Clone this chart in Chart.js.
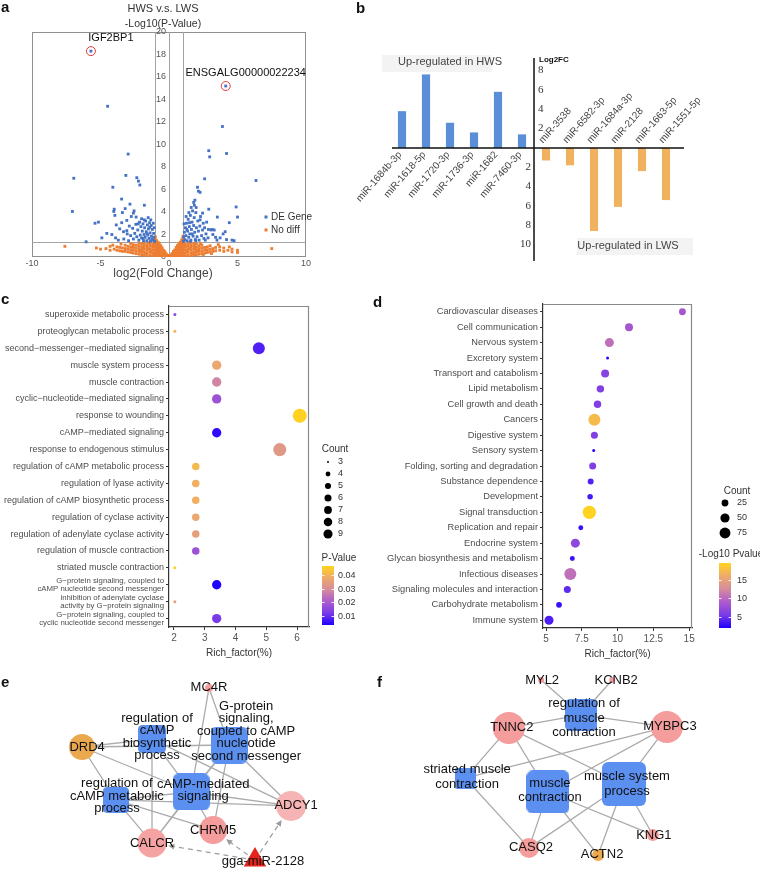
<!DOCTYPE html>
<html>
<head>
<meta charset="utf-8">
<title>HWS vs LWS</title>
<script src="https://cdn.jsdelivr.net/npm/chart.js@4.4.1/dist/chart.umd.min.js"></script>
<style>
  body { margin: 0; background: #fff; }
  #page { position: relative; width: 760px; height: 869px; overflow: hidden; font-family: "Liberation Sans", Arial, sans-serif; }
  #page canvas { position: absolute; }
  .tag { position: absolute; font-weight: bold; font-size: 15px; line-height: 16px; color: #111; }
</style>
</head>
<body>
<div id="page">
  <canvas id="volcano" width="330" height="290" style="left:0px;top:0px"></canvas>
  <canvas id="mirBars" width="430" height="290" style="left:330px;top:0px"></canvas>
  <canvas id="goDots" width="375" height="380" style="left:0px;top:290px"></canvas>
  <canvas id="keggDots" width="385" height="380" style="left:375px;top:290px"></canvas>
  <canvas id="netE" width="380" height="199" style="left:0px;top:670px"></canvas>
  <canvas id="netF" width="380" height="199" style="left:380px;top:670px"></canvas>
  <div class="tag" style="left:1px;top:-1px">a</div>
  <div class="tag" style="left:356px;top:0px">b</div>
  <div class="tag" style="left:1px;top:291px">c</div>
  <div class="tag" style="left:373px;top:294px">d</div>
  <div class="tag" style="left:1px;top:674px">e</div>
  <div class="tag" style="left:377px;top:674px">f</div>
</div>
<script>
// ---------- a: volcano ----------
const volcanoXTicks = [-10, -5, 0, 5, 10];
const volcanoYTicks = [0, 2, 4, 6, 8, 10, 12, 14, 16, 18, 20];
const foldCut = 1;
const pCut = 1.3;
const namedGenes = ['IGF2BP1', 'ENSGALG00000022234'];
const namedGenePts = [[-5.7, 18.3], [4.14, 15.2]];

const deGenes = [
  [-5.7, 18.3], [4.14, 15.2], [-4.48, 13.4], [3.9, 11.6], [-2.98, 9.15], [2.9, 9.45], [2.97, 8.9], [4.2, 9.2],
  [-6.95, 7.0], [-3.15, 7.25], [-2.35, 7.05], [-2.23, 6.75], [-2.13, 6.4], [-4.1, 6.2], [2.6, 6.95], [6.35, 6.8],
  [2.08, 6.2], [2.15, 5.85], [2.27, 5.75], [-7.05, 4.05], [-6.05, 1.35], [-5.4, 3.0], [-5.15, 3.1], [-4.9, 1.7],
  [-3.46, 5.15], [-2.85, 4.7], [-3.2, 4.3], [-4.0, 4.25], [-4.03, 4.05], [-3.4, 3.95], [-3.95, 3.7], [-3.08, 3.25],
  [-1.8, 4.6], [1.8, 4.85], [1.89, 5.05], [1.98, 4.4], [2.9, 4.25], [4.9, 4.45], [5.0, 3.55], [3.53, 3.55],
  [4.4, 3.05], [4.1, 2.25], [3.07, 2.4], [2.88, 2.45], [3.73, 1.7], [4.75, 1.45], [2.27, 3.3],
  [-1.05, 1.4], [-1.1, 1.75], [-1.12, 2.1], [-1.18, 1.5], [-1.22, 2.45], [-1.28, 1.85], [-1.3, 2.8], [-1.35, 1.4],
  [-1.38, 2.15], [-1.42, 3.05], [-1.46, 1.65], [-1.5, 2.5], [-1.54, 1.95], [-1.58, 2.85], [-1.62, 1.45], [-1.66, 2.25],
  [-1.7, 3.2], [-1.74, 1.75], [-1.78, 2.6], [-1.82, 2.0], [-1.86, 1.45], [-1.9, 2.95], [-1.95, 2.3], [-2.0, 1.7],
  [-2.05, 2.7], [-2.1, 1.95], [-2.15, 3.1], [-2.2, 1.5], [-2.28, 2.4], [-2.35, 1.8], [-2.42, 2.9], [-2.5, 2.1],
  [-2.6, 1.6], [-1.15, 3.0], [-1.25, 1.6], [-1.4, 2.65], [-1.6, 2.05], [-1.8, 3.3], [-2.0, 3.4], [-2.25, 2.95],
  [-1.33, 3.3], [-1.9, 1.65], [-2.65, 2.55], [-1.08, 2.6], [-1.52, 3.5],
  [-2.75, 3.6], [-2.9, 2.75], [-3.05, 2.05], [-3.3, 1.6], [-3.6, 2.5], [-3.85, 2.85], [-4.17, 2.0], [-4.54, 2.1],
  [-3.32, 2.25], [-2.8, 1.9], [-3.08, 2.34], [-2.6, 3.9], [-2.4, 3.55], [-3.7, 1.5], [-2.95, 1.45], [-3.45, 3.05],
  [-2.55, 4.1], [-3.9, 1.7],
  [1.05, 1.4], [1.08, 1.8], [1.12, 2.2], [1.15, 1.55], [1.2, 2.6], [1.24, 1.9], [1.28, 3.0], [1.32, 1.45],
  [1.36, 2.3], [1.4, 3.35], [1.44, 1.75], [1.48, 2.7], [1.52, 2.05], [1.56, 3.7], [1.6, 1.5], [1.64, 2.45],
  [1.68, 3.1], [1.72, 4.1], [1.76, 1.85], [1.8, 2.8], [1.84, 3.5], [1.88, 2.2], [1.92, 1.55], [1.96, 3.95],
  [2.0, 2.6], [2.05, 1.8], [2.1, 3.2], [2.15, 2.3], [2.2, 1.5], [2.25, 2.75], [2.3, 3.6], [2.38, 1.9],
  [2.45, 2.4], [2.55, 1.65], [1.3, 2.45], [1.5, 3.05], [1.62, 4.4], [1.7, 2.05], [1.85, 4.6], [1.45, 3.95],
  [1.1, 2.95], [1.25, 3.6], [1.95, 1.45], [2.5, 3.0], [1.58, 1.4],
  [2.7, 2.05], [2.85, 1.7], [3.2, 2.0], [3.5, 1.5], [2.75, 3.1], [3.15, 2.45], [2.65, 1.5], [3.4, 1.75],
  [4.2, 1.55], [3.95, 2.05], [2.45, 3.9], [2.6, 2.6], [3.3, 2.4], [4.6, 1.5]
];

const noDiff = [
  [-0.1, 0.05], [-0.1, 0.15], [-0.2, 0.08], [-0.2, 0.28], [-0.3, 0.1], [-0.3, 0.3], [-0.3, 0.48], [-0.4, 0.12],
  [-0.4, 0.35], [-0.4, 0.6], [-0.5, 0.1], [-0.5, 0.35], [-0.5, 0.6], [-0.5, 0.82], [-0.6, 0.12], [-0.6, 0.37],
  [-0.6, 0.62], [-0.6, 0.87], [-0.6, 1.0], [-0.7, 0.15], [-0.7, 0.4], [-0.7, 0.65], [-0.7, 0.9], [-0.7, 1.15],
  [-0.8, 0.1], [-0.8, 0.35], [-0.8, 0.6], [-0.8, 0.85], [-0.8, 1.1], [-0.8, 1.3], [-0.9, 0.2], [-0.9, 0.45],
  [-0.9, 0.7], [-0.9, 0.95], [-0.9, 1.2], [-0.9, 1.45], [-1.0, 0.1], [-1.0, 0.35], [-1.0, 0.6], [-1.0, 0.85],
  [-1.0, 1.1], [-1.0, 1.35], [-1.0, 1.6], [-1.0, 1.8],
  [0.1, 0.06], [0.12, 0.18], [0.2, 0.1], [0.22, 0.3], [0.3, 0.12], [0.3, 0.32], [0.32, 0.5], [0.4, 0.1],
  [0.4, 0.34], [0.42, 0.62], [0.5, 0.12], [0.5, 0.36], [0.5, 0.6], [0.52, 0.84], [0.6, 0.1], [0.6, 0.35],
  [0.6, 0.6], [0.6, 0.85], [0.62, 1.02], [0.7, 0.14], [0.7, 0.4], [0.7, 0.66], [0.7, 0.92], [0.72, 1.17],
  [0.8, 0.1], [0.8, 0.36], [0.8, 0.62], [0.8, 0.88], [0.8, 1.12], [0.82, 1.32], [0.9, 0.2], [0.9, 0.46],
  [0.9, 0.72], [0.9, 0.98], [0.9, 1.24], [0.92, 1.5], [1.0, 0.12], [1.0, 0.38], [1.0, 0.64], [1.0, 0.9],
  [1.0, 1.16], [1.0, 1.42], [1.0, 1.65], [1.02, 1.85],
  [-1.2, 0.1], [-1.2, 0.35], [-1.2, 0.6], [-1.2, 0.85], [-1.2, 1.1], [-1.4, 0.2], [-1.4, 0.45], [-1.4, 0.7],
  [-1.4, 0.95], [-1.4, 1.2], [-1.6, 0.1], [-1.6, 0.35], [-1.6, 0.6], [-1.6, 0.85], [-1.6, 1.1], [-1.8, 0.2],
  [-1.8, 0.45], [-1.8, 0.7], [-1.8, 0.95], [-1.8, 1.2], [-2.0, 0.15], [-2.0, 0.4], [-2.0, 0.65], [-2.0, 0.9],
  [-2.0, 1.15], [-2.2, 0.25], [-2.2, 0.5], [-2.2, 0.75], [-2.2, 1.0], [-2.2, 1.25], [-2.4, 0.3], [-2.4, 0.55],
  [-2.4, 0.8], [-2.4, 1.05], [-2.6, 0.35], [-2.6, 0.6], [-2.6, 0.85], [-2.6, 1.1], [-2.8, 0.4], [-2.8, 0.65],
  [-2.8, 0.9], [-2.8, 1.2], [-3.0, 0.45], [-3.0, 0.7], [-3.0, 0.95], [-3.2, 0.5], [-3.2, 0.75], [-3.2, 1.05],
  [-3.4, 0.5], [-3.4, 0.8], [-3.6, 0.55], [-3.6, 0.85], [-3.8, 0.6], [-3.8, 0.9], [-4.0, 0.7], [-4.3, 0.6],
  [-4.3, 0.95], [-4.6, 0.75], [-1.1, 0.22], [-1.3, 0.48], [-1.5, 0.72], [-1.7, 0.28], [-1.9, 0.82], [-2.1, 0.55],
  [-1.1, 1.25], [-1.5, 1.28],
  [1.2, 0.1], [1.2, 0.35], [1.2, 0.6], [1.2, 0.85], [1.2, 1.1], [1.4, 0.2], [1.4, 0.45], [1.4, 0.7],
  [1.4, 0.95], [1.4, 1.2], [1.6, 0.1], [1.6, 0.35], [1.6, 0.6], [1.6, 0.85], [1.6, 1.1], [1.8, 0.2],
  [1.8, 0.45], [1.8, 0.7], [1.8, 0.95], [1.8, 1.2], [2.0, 0.15], [2.0, 0.4], [2.0, 0.65], [2.0, 0.9],
  [2.0, 1.15], [2.2, 0.25], [2.2, 0.5], [2.2, 0.75], [2.2, 1.0], [2.4, 0.3], [2.4, 0.55], [2.4, 0.8],
  [2.4, 1.05], [2.6, 0.35], [2.6, 0.6], [2.6, 0.85], [2.8, 0.4], [2.8, 0.65], [2.8, 0.9], [3.0, 0.45],
  [3.0, 0.7], [3.0, 1.0], [3.2, 0.5], [3.2, 0.75], [3.4, 0.55], [3.4, 0.85], [3.7, 0.6], [3.7, 0.9],
  [4.0, 0.5], [4.0, 0.8], [4.3, 0.6], [4.6, 0.7], [4.6, 0.45], [5.0, 0.6], [5.0, 0.4], [1.1, 0.25],
  [1.3, 0.5], [1.5, 0.75], [1.7, 0.3], [1.9, 0.8], [2.1, 0.55], [1.1, 1.25], [1.5, 1.28], [2.3, 1.2],
  [2.5, 0.2], [3.1, 0.3],
  [-7.6, 0.95], [-5.0, 0.7], [-5.3, 0.8], [-4.1, 1.05], [-3.5, 1.15], [7.5, 0.75], [3.6, 1.1], [4.4, 0.9]
];

// ---------- b: miRNA log2FC ----------
const hwsMirs = ['miR-1684b-3p', 'miR-1618-5p', 'miR-1720-3p', 'miR-1736-3p', 'miR-1682', 'miR-7460-3p'];
const hwsLog2FC = [3.8, 7.6, 2.6, 1.6, 5.8, 1.4];
const lwsMirs = ['miR-3538', 'miR-6582-3p', 'miR-1684a-3p', 'miR-2128', 'miR-1663-5p', 'miR-1551-5p'];
const lwsLog2FC = [-1.3, -1.8, -8.6, -6.1, -2.4, -5.4];
const mirTicksUp = [2, 4, 6, 8];
const mirTicksDown = [2, 4, 6, 8, 10];

// ---------- c: GO terms ----------
const goTerms = [
  'superoxide metabolic process',
  'proteoglycan metabolic process',
  'second\u2212messenger\u2212mediated signaling',
  'muscle system process',
  'muscle contraction',
  'cyclic\u2212nucleotide\u2212mediated signaling',
  'response to wounding',
  'cAMP\u2212mediated signaling',
  'response to endogenous stimulus',
  'regulation of cAMP metabolic process',
  'regulation of lyase activity',
  'regulation of cAMP biosynthetic process',
  'regulation of cyclase activity',
  'regulation of adenylate cyclase activity',
  'regulation of muscle contraction',
  'striated muscle contraction',
  ['G\u2212protein signaling, coupled to', 'cAMP nucleotide second messenger'],
  ['inhibition of adenylate cyclase', 'activity by G\u2212protein signaling'],
  ['G\u2212protein signaling, coupled to', 'cyclic nucleotide second messenger']
];
const goRichFactor = [2.03, 2.03, 4.76, 3.39, 3.39, 3.39, 6.09, 3.39, 5.44, 2.71, 2.71, 2.71, 2.71, 2.71, 2.71, 2.03, 3.39, 2.03, 3.39];
const goCount = [3, 3, 7, 5, 5, 5, 9, 5, 8, 4, 4, 4, 4, 4, 4, 3, 5, 3, 5];
const goPValue = [0.015, 0.040, 0.008, 0.037, 0.028, 0.018, 0.046, 0.005, 0.033, 0.041, 0.039, 0.039, 0.037, 0.035, 0.018, 0.046, 0.003, 0.035, 0.012];
const goXTicks = [2, 3, 4, 5, 6];
const goCountKeys = [3, 4, 5, 6, 7, 8, 9];
const goPTicks = [0.01, 0.02, 0.03, 0.04];
const goPRange = [0.0034, 0.0466];

// ---------- d: KEGG classes ----------
const keggTerms = [
  'Cardiovascular diseases', 'Cell communication', 'Nervous system', 'Excretory system',
  'Transport and catabolism', 'Lipid metabolism', 'Cell growth and death', 'Cancers',
  'Digestive system', 'Sensory system', 'Folding, sorting and degradation', 'Substance dependence',
  'Development', 'Signal transduction', 'Replication and repair', 'Endocrine system',
  'Glycan biosynthesis and metabolism', 'Infectious diseases', 'Signaling molecules and interaction',
  'Carbohydrate metabolism', 'Immune system'
];
const keggRichFactor = [14.53, 10.8, 9.43, 9.3, 9.13, 8.8, 8.6, 8.38, 8.38, 8.33, 8.26, 8.12, 8.08, 8.03, 7.43, 7.05, 6.84, 6.7, 6.49, 5.91, 5.21];
const keggCount = [20, 28, 37, 8, 28, 24, 24, 73, 21, 8, 21, 15, 13, 92, 11, 37, 11, 73, 21, 14, 37];
const keggLogP = [8.5, 8.5, 10.5, 2.5, 6.5, 6, 6, 17.5, 6, 2.3, 6, 4, 3.5, 19.5, 3, 7, 3, 10.5, 4.5, 3, 3.8];
const keggXTicks = [5, 7.5, 10, 12.5, 15];
const keggCountKeys = [25, 50, 75];
const keggPTicks = [5, 10, 15];
const keggPRange = [2.0, 19.6];

// ---------- e / f: networks (layout units 0-100) ----------
const eNames = [['MC4R'], ['G-protein', 'signaling,', 'coupled to cAMP', 'nucleotide', 'second messenger'],
  ['regulation of', 'cAMP', 'biosynthetic', 'process'], ['DRD4'], ['cAMP-mediated', 'signaling'],
  ['regulation of', 'cAMP metabolic', 'process'], ['ADCY1'], ['CHRM5'], ['CALCR'], ['gga-miR-2128']];
const eKind = ['gene', 'term', 'term', 'gene', 'term', 'term', 'gene', 'gene', 'gene', 'mirna'];
const eLayoutX = [55.0, 60.3, 40.0, 21.6, 50.3, 30.5, 76.6, 56.1, 40.0, 67.1];
const eLayoutY = [9.0, 37.7, 34.7, 38.7, 61.3, 65.3, 68.3, 80.4, 86.9, 95.5];
const eEdges = [[0, 1], [0, 4], [3, 2], [3, 1], [3, 5], [3, 4], [2, 4], [2, 8], [2, 6], [1, 4], [1, 7], [1, 6],
  [1, 8], [4, 6], [4, 8], [4, 7], [5, 4], [5, 6], [5, 7], [5, 8]];
const eTargets = [[9, 8], [9, 7], [9, 6]];

const fNames = [['MYL2'], ['KCNB2'], ['regulation of', 'muscle', 'contraction'], ['TNNC2'], ['MYBPC3'],
  ['striated muscle', 'contraction'], ['muscle', 'contraction'], ['muscle system', 'process'], ['KNG1'], ['CASQ2'], ['ACTN2']];
const fKind = ['gene', 'gene', 'term', 'gene', 'gene', 'term', 'term', 'term', 'gene', 'gene', 'gene'];
const fLayoutX = [42.4, 61.1, 52.9, 33.9, 75.5, 22.4, 44.2, 64.2, 71.8, 39.2, 57.4];
const fLayoutY = [5.0, 5.0, 22.6, 29.1, 28.6, 54.3, 61.3, 57.3, 82.9, 89.4, 93.0];
const fEdges = [[0, 2], [1, 2], [3, 2], [4, 2], [3, 5], [3, 6], [3, 7], [4, 5], [4, 6], [4, 7], [5, 9], [6, 9],
  [6, 10], [6, 8], [7, 9], [7, 10], [7, 8]];

// ---------- helpers ----------
const FONT = '"Liberation Sans", Arial, sans-serif';
Chart.defaults.font.family = FONT;
Chart.defaults.animation = false;
Chart.defaults.responsive = false;
Chart.defaults.events = [];
Chart.defaults.layout.autoPadding = false;
Chart.defaults.plugins.legend.display = false;
Chart.defaults.plugins.tooltip.enabled = false;

const ramp = ['#1e00ff', '#7a3ae8', '#ad5ccc', '#d58c9c', '#eeaa6a', '#ffd41e'];
function hexRgb(h) { const n = parseInt(h.slice(1), 16); return [n >> 16, (n >> 8) & 255, n & 255]; }
function rampColor(t) {
  t = Math.max(0, Math.min(1, t));
  const k = t * (ramp.length - 1);
  const i = Math.min(Math.floor(k), ramp.length - 2);
  const a = hexRgb(ramp[i]), b = hexRgb(ramp[i + 1]), f = k - i;
  return 'rgb(' + a.map((v, j) => Math.round(v + (b[j] - v) * f)).join(',') + ')';
}
function rampBar(ctx, x, y, w, h) {
  const g = ctx.createLinearGradient(0, y + h, 0, y);
  ramp.forEach((c, i) => g.addColorStop(i / (ramp.length - 1), c));
  ctx.fillStyle = g;
  ctx.fillRect(x, y, w, h);
}
const goRadius = c => 1.5 + 5.5 * Math.sqrt((c - 3) / 6);
const keggRadius = c => 1.5 + 5.2 * Math.sqrt(Math.max(c - 8, 0) / 87);

// ---------- a ----------
const volcanoDecor = {
  id: 'volcanoDecor',
  beforeDatasetsDraw(chart) {
    const { ctx, chartArea: a, scales: { x, y } } = chart;
    const x0 = x.getPixelForValue(0);
    ctx.save();
    ctx.strokeStyle = '#8f8f8f';
    ctx.lineWidth = 1;
    ctx.strokeRect(a.left + 0.5, a.top + 0.5, a.width - 1, a.height - 1);
    ctx.strokeStyle = '#a3a3a3';
    ctx.beginPath();
    [-foldCut, foldCut, 0].forEach(v => {
      const px = Math.round(x.getPixelForValue(v)) + 0.5;
      ctx.moveTo(px, a.top); ctx.lineTo(px, a.bottom);
    });
    const py = Math.round(y.getPixelForValue(pCut)) + 0.5;
    ctx.moveTo(a.left, py); ctx.lineTo(a.right, py);
    ctx.stroke();
    ctx.fillStyle = '#555';
    ctx.font = '9px ' + FONT;
    ctx.textAlign = 'right';
    ctx.textBaseline = 'middle';
    volcanoYTicks.forEach(v => ctx.fillText(String(v), x0 - 3, y.getPixelForValue(v)));
    ctx.textAlign = 'center';
    volcanoXTicks.forEach(v => ctx.fillText(String(v), x.getPixelForValue(v), a.bottom + 7));
    ctx.restore();
  },
  afterDatasetsDraw(chart) {
    const { ctx, chartArea: a, scales: { x, y } } = chart;
    const x0 = x.getPixelForValue(0);
    ctx.save();
    ctx.textBaseline = 'middle';
    namedGenes.forEach((g, i) => {
      const px = x.getPixelForValue(namedGenePts[i][0]);
      const py = y.getPixelForValue(namedGenePts[i][1]);
      ctx.strokeStyle = '#e23b3b';
      ctx.lineWidth = 1;
      ctx.beginPath(); ctx.arc(px, py, 4.5, 0, Math.PI * 2); ctx.stroke();
      ctx.fillStyle = '#111';
      ctx.font = '11px ' + FONT;
      ctx.textAlign = 'center';
      ctx.fillText(g, px + 20, py - 13);
    });
    // legend
    const lx = a.right - 40, ly = a.top + 185;
    [['DE Gene', '#4472c4'], ['No diff', '#ed7d31']].forEach(([t, c], i) => {
      ctx.fillStyle = c;
      ctx.fillRect(lx - 1.5, ly + i * 13 - 1.5, 3, 3);
      ctx.fillStyle = '#333';
      ctx.font = '10px ' + FONT;
      ctx.textAlign = 'left';
      ctx.fillText(t, lx + 5, ly + i * 13);
    });
    ctx.fillStyle = '#333';
    ctx.textAlign = 'center';
    ctx.font = '11px ' + FONT;
    ctx.fillText('HWS v.s. LWS', x0 - 6, a.top - 23);
    ctx.font = '10.5px ' + FONT;
    ctx.fillText('-Log10(P-Value)', x0 - 6, a.top - 8);
    ctx.fillStyle = '#444';
    ctx.font = '12px ' + FONT;
    ctx.fillText('log2(Fold Change)', x0 - 6, a.bottom + 17);
    ctx.restore();
  }
};

new Chart(document.getElementById('volcano'), {
  type: 'scatter',
  data: {
    datasets: [
      { label: 'DE Gene', data: deGenes.map(p => ({ x: p[0], y: p[1] })), pointStyle: 'rect', pointRadius: 2, backgroundColor: '#4472c4', borderWidth: 0 },
      { label: 'No diff', data: noDiff.map(p => ({ x: p[0], y: p[1] })), pointStyle: 'rect', pointRadius: 2, backgroundColor: '#ed7d31', borderWidth: 0 }
    ]
  },
  options: {
    layout: { padding: { left: 32, right: 24, top: 32, bottom: 33 } },
    scales: {
      x: { type: 'linear', min: -10, max: 10, display: false },
      y: { type: 'linear', min: 0, max: 20, display: false }
    }
  },
  plugins: [volcanoDecor]
});

// ---------- b ----------
const mirNames = hwsMirs.concat(lwsMirs);
const mirLog2FC = hwsLog2FC.concat(lwsLog2FC);

const mirDecor = {
  id: 'mirDecor',
  beforeDatasetsDraw(chart) {
    const ctx = chart.ctx;
    ctx.save();
    ctx.fillStyle = '#f3f3f3';
    ctx.fillRect(52, 55, 110, 17);
    ctx.fillRect(247, 238, 116, 17);
    ctx.restore();
  },
  afterDatasetsDraw(chart) {
    const { ctx, chartArea: a, scales: { x, y } } = chart;
    const y0 = y.getPixelForValue(0);
    const split = hwsMirs.length;
    const ax = Math.round((x.getPixelForValue(split - 1) + x.getPixelForValue(split)) / 2);
    ctx.save();
    ctx.strokeStyle = '#111';
    ctx.lineWidth = 1.5;
    ctx.beginPath();
    ctx.moveTo(a.left + 2, y0); ctx.lineTo(a.right + 6, y0);
    ctx.moveTo(ax, a.top); ctx.lineTo(ax, a.bottom);
    ctx.stroke();
    ctx.fillStyle = '#333';
    ctx.textBaseline = 'middle';
    ctx.font = '11px "Liberation Serif", "Times New Roman", serif';
    ctx.textAlign = 'left';
    mirTicksUp.forEach(v => ctx.fillText(String(v), ax + 4, y.getPixelForValue(v)));
    ctx.textAlign = 'right';
    mirTicksDown.forEach(v => ctx.fillText(String(v), ax - 3, y.getPixelForValue(-v)));
    ctx.fillStyle = '#111';
    ctx.font = 'bold 8px ' + FONT;
    ctx.textAlign = 'left';
    ctx.fillText('Log2FC', ax + 5, a.top + 2);
    ctx.fillStyle = '#444';
    ctx.font = '10px ' + FONT;
    mirNames.forEach((n, i) => {
      const px = x.getPixelForValue(i);
      ctx.save();
      if (i < split) {
        ctx.translate(px - 2, y0 + 5);
        ctx.textAlign = 'right';
      } else {
        ctx.translate(px - 5, y0 - 6);
        ctx.textAlign = 'left';
      }
      ctx.rotate(-0.85);
      ctx.fillText(n, 0, 0);
      ctx.restore();
    });
    ctx.font = '11px ' + FONT;
    ctx.textAlign = 'center';
    ctx.fillText('Up-regulated in HWS', 120, 62);
    ctx.fillText('Up-regulated in LWS', 298, 246);
    ctx.restore();
  }
};

new Chart(document.getElementById('mirBars'), {
  type: 'bar',
  data: {
    labels: mirNames,
    datasets: [{
      data: mirLog2FC,
      backgroundColor: c => (c.raw > 0 ? '#5a8fd8' : '#f0b25f'),
      barPercentage: 0.34,
      categoryPercentage: 1
    }]
  },
  options: {
    layout: { padding: { left: 60, right: 82, top: 58, bottom: 29 } },
    scales: {
      x: { display: false },
      y: { display: false, min: -11.7, max: 9.3 }
    }
  },
  plugins: [mirDecor]
});

// ---------- c / d shared ----------
function dotXScale(ticks, min, max) {
  return {
    type: 'linear', min, max,
    afterBuildTicks: s => { s.ticks = ticks.map(v => ({ value: v })); },
    afterFit: s => { s.height = 36; },
    grid: { drawOnChartArea: false, tickLength: 3, color: '#333' },
    border: { color: '#333', width: 1.2 },
    ticks: { font: { size: 10 }, color: '#555', padding: 2, autoSkip: false, maxRotation: 0, callback: v => String(v) },
    title: { display: true, text: 'Rich_factor(%)', font: { size: 10 }, color: '#333', padding: { top: 0, bottom: 4 } }
  };
}
function dotYScale(labels, width, size) {
  return {
    type: 'category', labels, offset: true,
    afterFit: s => { s.width = width; },
    grid: { drawOnChartArea: false, tickLength: 3, color: '#333' },
    border: { color: '#333', width: 1.2 },
    ticks: {
      autoSkip: false, color: '#4d4d4d', padding: 2,
      font: c => (c.tick && Array.isArray(c.tick.label) ? { size: 7.8, lineHeight: 1.05 } : { size })
    }
  };
}
const dotFrame = {
  id: 'dotFrame',
  beforeDatasetsDraw(chart) {
    const { ctx, chartArea: a } = chart;
    ctx.save();
    ctx.strokeStyle = '#8a8a8a';
    ctx.lineWidth = 1.2;
    ctx.beginPath();
    ctx.moveTo(a.left, a.top + 0.5);
    ctx.lineTo(a.right - 0.5, a.top + 0.5);
    ctx.lineTo(a.right - 0.5, a.bottom);
    ctx.stroke();
    ctx.restore();
  }
};
function dotLegend(cfg) {
  return {
    id: 'dotLegend',
    afterDraw(chart) {
      const ctx = chart.ctx;
      ctx.save();
      ctx.textBaseline = 'middle';
      ctx.fillStyle = '#333';
      ctx.font = '10px ' + FONT;
      ctx.textAlign = 'center';
      ctx.fillText('Count', cfg.countX, cfg.countY);
      cfg.counts.forEach((c, i) => {
        const cy = cfg.countY + cfg.firstGap + i * cfg.step;
        ctx.fillStyle = '#000';
        ctx.beginPath(); ctx.arc(cfg.dotX, cy, cfg.radius(c) * cfg.scale, 0, Math.PI * 2); ctx.fill();
        ctx.fillStyle = '#333';
        ctx.font = '9px ' + FONT;
        ctx.textAlign = 'left';
        ctx.fillText(String(c), cfg.dotX + cfg.labelGap, cy);
      });
      ctx.fillStyle = '#333';
      ctx.font = '10px ' + FONT;
      ctx.textAlign = 'center';
      ctx.fillText(cfg.colorTitle, cfg.colorTitleX, cfg.colorTitleY);
      rampBar(ctx, cfg.barX, cfg.barY, 12, cfg.barH);
      cfg.colorTicks.forEach(v => {
        const ty = Math.round(cfg.barY + cfg.barH - (v - cfg.range[0]) / (cfg.range[1] - cfg.range[0]) * cfg.barH) + 0.5;
        ctx.strokeStyle = 'rgba(255,255,255,0.85)';
        ctx.lineWidth = 1;
        ctx.beginPath();
        ctx.moveTo(cfg.barX, ty); ctx.lineTo(cfg.barX + 2.5, ty);
        ctx.moveTo(cfg.barX + 9.5, ty); ctx.lineTo(cfg.barX + 12, ty);
        ctx.stroke();
        ctx.fillStyle = '#333';
        ctx.font = '9px ' + FONT;
        ctx.textAlign = 'left';
        ctx.fillText(cfg.tickText(v), cfg.barX + cfg.tickGap, ty);
      });
      ctx.restore();
    }
  };
}

// ---------- c ----------
new Chart(document.getElementById('goDots'), {
  type: 'scatter',
  data: {
    datasets: [{
      data: goTerms.map((t, i) => ({ x: goRichFactor[i], y: i })),
      pointRadius: c => goRadius(goCount[c.dataIndex]),
      backgroundColor: c => rampColor((goPValue[c.dataIndex] - goPRange[0]) / (goPRange[1] - goPRange[0])),
      borderWidth: 0
    }]
  },
  options: {
    layout: { padding: { left: 0, right: 66, top: 16, bottom: 7 } },
    scales: { x: dotXScale(goXTicks, 1.84, 6.39), y: dotYScale(goTerms, 169, 9) }
  },
  plugins: [dotFrame, dotLegend({
    countX: 335, countY: 159, dotX: 328, firstGap: 13, step: 12, counts: goCountKeys, radius: goRadius, scale: 0.65, labelGap: 10,
    colorTitle: 'P-Value', colorTitleX: 339, colorTitleY: 268, barX: 322, barY: 276, barH: 59,
    colorTicks: goPTicks, range: goPRange, tickGap: 16, tickText: v => v.toFixed(2)
  })]
});

// ---------- d ----------
new Chart(document.getElementById('keggDots'), {
  type: 'scatter',
  data: {
    datasets: [{
      data: keggTerms.map((t, i) => ({ x: keggRichFactor[i], y: i })),
      pointRadius: c => keggRadius(keggCount[c.dataIndex]),
      backgroundColor: c => rampColor((keggLogP[c.dataIndex] - keggPRange[0]) / (keggPRange[1] - keggPRange[0])),
      borderWidth: 0
    }]
  },
  options: {
    layout: { padding: { left: 0, right: 68, top: 14, bottom: 6 } },
    scales: { x: dotXScale(keggXTicks, 4.79, 15.2), y: dotYScale(keggTerms, 168, 9.3) }
  },
  plugins: [dotFrame, dotLegend({
    countX: 362, countY: 201, dotX: 350, firstGap: 12, step: 15, counts: keggCountKeys, radius: keggRadius, scale: 0.9, labelGap: 12,
    colorTitle: '-Log10 Pvalue', colorTitleX: 356, colorTitleY: 264, barX: 344, barY: 273, barH: 65,
    colorTicks: keggPTicks, range: keggPRange, tickGap: 18, tickText: v => String(v)
  })]
});

// ---------- e / f ----------
function boxSprite(side, color) {
  const c = document.createElement('canvas');
  c.width = side; c.height = side;
  const g = c.getContext('2d');
  g.fillStyle = color;
  g.beginPath();
  g.roundRect(0, 0, side, side, Math.min(6, side * 0.16));
  g.fill();
  return c;
}
function network(id, net) {
  const sprites = net.kind.map((k, i) => (k === 'term' ? boxSprite(net.size[i], net.color[i]) : null));
  const links = {
    id: 'links',
    beforeDatasetsDraw(chart) {
      const ctx = chart.ctx, pts = chart.getDatasetMeta(0).data;
      ctx.save();
      ctx.strokeStyle = '#ababab';
      ctx.lineWidth = 1.3;
      ctx.beginPath();
      net.edges.forEach(([s, t]) => { ctx.moveTo(pts[s].x, pts[s].y); ctx.lineTo(pts[t].x, pts[t].y); });
      ctx.stroke();
      net.targets.forEach(([s, t]) => {
        const p = pts[s], q = pts[t];
        const dx = q.x - p.x, dy = q.y - p.y, len = Math.hypot(dx, dy), ux = dx / len, uy = dy / len;
        const ex = q.x - ux * (net.size[t] + 2), ey = q.y - uy * (net.size[t] + 2);
        ctx.strokeStyle = '#9c9c9c';
        ctx.lineWidth = 1.2;
        ctx.setLineDash([5, 4]);
        ctx.beginPath(); ctx.moveTo(p.x + ux * 9, p.y + uy * 9); ctx.lineTo(ex - ux * 4, ey - uy * 4); ctx.stroke();
        ctx.setLineDash([]);
        ctx.fillStyle = '#9c9c9c';
        ctx.beginPath();
        ctx.moveTo(ex, ey);
        ctx.lineTo(ex - ux * 6 - uy * 3, ey - uy * 6 + ux * 3);
        ctx.lineTo(ex - ux * 6 + uy * 3, ey - uy * 6 - ux * 3);
        ctx.closePath(); ctx.fill();
      });
      ctx.restore();
    },
    afterDatasetsDraw(chart) {
      const ctx = chart.ctx, pts = chart.getDatasetMeta(0).data;
      ctx.save();
      ctx.fillStyle = '#111';
      ctx.font = '13px ' + FONT;
      ctx.textAlign = 'center';
      ctx.textBaseline = 'middle';
      net.names.forEach((lines, i) => {
        const cx = pts[i].x + net.labelDx[i], cy = pts[i].y + net.labelDy[i];
        lines.forEach((ln, k) => ctx.fillText(ln, cx, cy + (k - (lines.length - 1) / 2) * net.lineHeight));
      });
      ctx.restore();
    }
  };
  return new Chart(document.getElementById(id), {
    type: 'scatter',
    data: {
      datasets: [{
        data: net.x.map((v, i) => ({ x: v, y: net.y[i] })),
        clip: false,
        pointStyle: c => (net.kind[c.dataIndex] === 'term' ? sprites[c.dataIndex] : (net.kind[c.dataIndex] === 'mirna' ? 'triangle' : 'circle')),
        pointRadius: c => (net.kind[c.dataIndex] === 'term' ? net.size[c.dataIndex] / 2 : net.size[c.dataIndex]),
        backgroundColor: c => net.color[c.dataIndex],
        borderWidth: 0
      }]
    },
    options: {
      layout: { padding: 0 },
      scales: {
        x: { display: false, min: 0, max: 100 },
        y: { display: false, min: 0, max: 100, reverse: true }
      }
    },
    plugins: [links]
  });
}

const pink = '#f59c9c', term = '#5b8ff0', amber = '#eaa94f';
network('netE', {
  names: eNames, kind: eKind, x: eLayoutX, y: eLayoutY, edges: eEdges, targets: eTargets,
  size: [4, 37, 28, 13, 37, 26, 15, 14, 14.5, 13],
  color: [pink, term, term, amber, term, term, '#f7b4b4', pink, '#f5a2a2', '#e3231c'],
  labelDx: [0, 17, 5, 5, 12, 1, 5, 0, 0, 8],
  labelDy: [0, -14, -2, 0, -1.5, -4, 0, 0, 0, 1],
  lineHeight: 12.5
});
network('netF', {
  names: fNames, kind: fKind, x: fLayoutX, y: fLayoutY, edges: fEdges, targets: [],
  size: [3, 3, 32, 16, 16, 21, 43, 44, 6, 10, 6],
  color: [pink, pink, term, pink, pink, term, term, term, pink, pink, amber],
  labelDx: [1, 4, 3, 3, 3, 2, 2, 3, 1, 2, 4],
  labelDy: [0, 0, 3, 0, 0, -1, -1.5, -0.5, 0, 0, -1],
  lineHeight: 14.8
});
</script>
</body>
</html>
